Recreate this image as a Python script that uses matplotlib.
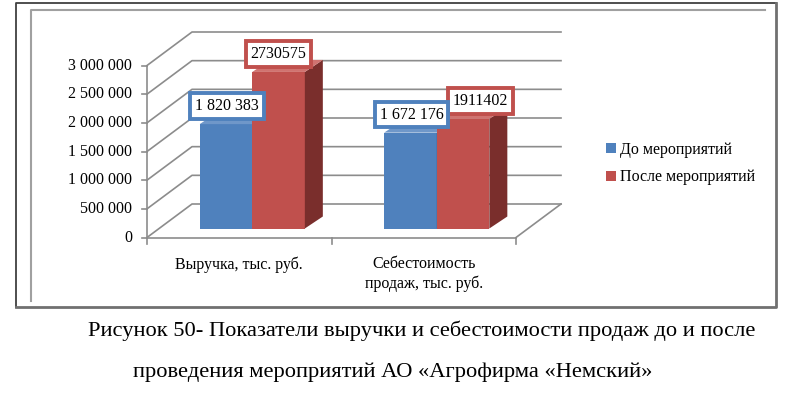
import matplotlib
matplotlib.use('Agg')
import matplotlib.pyplot as plt
import matplotlib.transforms as mtransforms
from matplotlib.patches import Polygon, Patch
from matplotlib.lines import Line2D
import numpy as np

plt.rcParams['font.family'] = ['Liberation Serif', 'DejaVu Serif']

categories = ['Выручка, тыс. руб.', 'Себестоимость\nпродаж, тыс. руб.']
series_names = ['До мероприятий', 'После мероприятий']
before = [1820383, 1672176]
after = [2730575, 1911402]
before_labels = ['1 820 383', '1 672 176']
after_labels = ['2730575', '1911402']
yticks = [0, 500000, 1000000, 1500000, 2000000, 2500000, 3000000]
ytick_labels = ['0', '500 000', '1 000 000', '1 500 000', '2 000 000', '2 500 000', '3 000 000']
caption = ['Рисунок 50- Показатели выручки и себестоимости продаж до и после',
           'проведения мероприятий АО «Агрофирма «Немский»']

W, H = 800, 397
fig = plt.figure(figsize=(W / 100, H / 100), dpi=100)


def fpx(x, y):
    # pixel from top-left -> figure fraction
    return x / W, 1 - y / H


# frames
ident = mtransforms.IdentityTransform()
fig.add_artist(Line2D([16 / W, 16 / W, 776 / W], [1 - 307 / H, 1 - 3 / H, 1 - 3 / H],
                      transform=fig.transFigure, color='#404040', lw=1.3))
fig.add_artist(Line2D([16 / W, 776 / W, 776 / W], [1 - 307 / H, 1 - 307 / H, 1 - 3 / H],
                      transform=fig.transFigure, color='#707070', lw=2))
fig.add_artist(Line2D([31 / W, 31 / W, 765 / W], [1 - 301 / H, 1 - 10 / H, 1 - 10 / H],
                      transform=fig.transFigure, color='#a0a0a0', lw=1.5))

# axes = front plane of the 3d box
x0, x1, y0, y1 = 147, 516, 237.5, 65.5
ax = fig.add_axes([x0 / W, 1 - y0 / H, (x1 - x0) / W, (y0 - y1) / H])
ax.set_xlim(0, 2)
ax.set_ylim(0, 3000000)
ax.set_autoscale_on(False)
ax.axis('off')

D = np.array([45, 33.5])   # wall depth
B = np.array([13, 9])      # bar front depth
S = np.array([18, 12])     # bar depth


def p(x, v, off=(0, 0)):
    return ax.transData.transform((x, v)) + np.asarray(off)


grid = '#8c8c8c'
# back wall gridlines and left wall diagonals
for v in yticks:
    a, b, c = p(0, v), p(0, v, D), p(2, v, D)
    ax.add_line(Line2D([a[0], b[0], c[0]], [a[1], b[1], c[1]], transform=ident,
                       color=grid, lw=1.2, clip_on=False))
# floor right edge
a, b = p(2, 0), p(2, 0, D)
ax.add_line(Line2D([a[0], b[0]], [a[1], b[1]], transform=ident, color=grid, lw=1.2, clip_on=False))
# y axis and ticks
ax.plot([0, 0], [0, 3000000], color=grid, lw=1.2, clip_on=False)
for v, lab in zip(yticks, ytick_labels):
    a = p(0, v)
    ax.add_line(Line2D([a[0] - 5, a[0]], [a[1], a[1]], transform=ident, color=grid, lw=1.2, clip_on=False))
    ax.text(a[0] - 15, a[1], lab, transform=ident, ha='right', va='center', fontsize=11.5)
# x axis and ticks
ax.plot([0, 2], [0, 0], color=grid, lw=1.2, clip_on=False)
for x in [0, 1, 2]:
    a = p(x, 0)
    ax.add_line(Line2D([a[0], a[0]], [a[1], a[1] - 6], transform=ident, color=grid, lw=1.2, clip_on=False))
for i, cat in enumerate(categories):
    a = p(i + 0.5, 0)
    ax.text(a[0], a[1] - 19, cat, transform=ident, ha='center', va='top', fontsize=11.5, linespacing=1.25)

# bars
bw = 0.285
colors = [('#4f81bd', '#3a6191', '#6f97c9'), ('#c0504d', '#7a2e2c', '#d07370')]
label_shift = [[1, 1], [0, 17]]   # px, to keep labels apart
xs = np.arange(len(categories)) + 0.5
shift = mtransforms.offset_copy(ax.transData, fig=fig, x=B[0], y=B[1], units='dots')
for k, (vals, labs) in enumerate([(before, before_labels), (after, after_labels)]):
    front, side, top = colors[k]
    lefts = xs - bw + k * bw
    ax.bar(lefts, vals, width=bw, align='edge', color=front, transform=shift, zorder=3 + k)
    for j, (xl, v, lab) in enumerate(zip(lefts, vals, labs)):
        xr = xl + bw
        sp = [p(xr, 0, B), p(xr, v, B), p(xr, v, B + S), p(xr, 0, B + S)]
        ax.add_patch(Polygon(sp, closed=True, transform=ident, facecolor=side,
                             edgecolor='none', zorder=3 + k, clip_on=False))
        tp = [p(xl, v, B), p(xr, v, B), p(xr, v, B + S), p(xl, v, B + S)]
        ax.add_patch(Polygon(tp, closed=True, transform=ident, facecolor=top,
                             edgecolor='none', zorder=3 + k, clip_on=False))
        c = p(xl + bw / 2, v, B)
        ax.text(c[0] + label_shift[k][j], c[1] + 18, lab, transform=ident, ha='center', va='center',
                fontsize=11.5, zorder=11 - k,
                bbox=dict(boxstyle='square,pad=0.3', facecolor='white', edgecolor=front, lw=2.8))

handles = [Patch(facecolor=colors[k][0], edgecolor='none') for k in range(2)]
fig.legend(handles, series_names, loc='center left', bbox_to_anchor=fpx(606, 163.5),
           frameon=False, fontsize=11.5, handlelength=0.6, handleheight=0.6,
           handletextpad=0.3, labelspacing=0.75, borderpad=0, borderaxespad=0)

fig.text(88 / W, 1 - 331 / H, caption[0], ha='left', va='center', fontsize=16.2)
fig.text(133 / W, 1 - 372 / H, caption[1], ha='left', va='center', fontsize=16.2)

fig.savefig('out.png', dpi=100)
